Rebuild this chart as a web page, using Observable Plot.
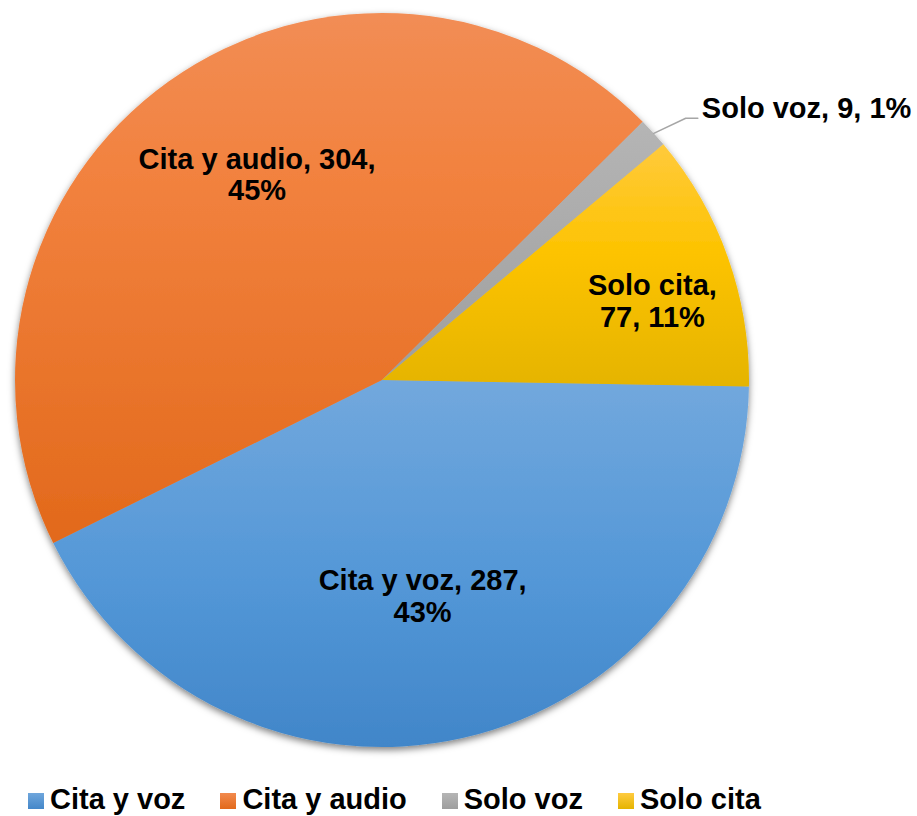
<!DOCTYPE html>
<html>
<head>
<meta charset="utf-8">
<script src="https://cdn.jsdelivr.net/npm/d3@7"></script>
<script src="https://cdn.jsdelivr.net/npm/@observablehq/plot@0.6"></script>
<style>
  body { margin: 0; background: #fff; font-family: "Liberation Sans", Arial, sans-serif; }
  #chart { position: relative; width: 917px; height: 816px; overflow: hidden; }
  #chart svg { display: block; }
  #legend { position: absolute; left: 28px; top: 784.5px; white-space: nowrap; font-size: 29px; line-height: 29px; font-weight: bold; color: #000; }
  #legend .item { display: inline-block; margin-right: 35px; }
  #legend .sq { display: inline-block; width: 16px; height: 16px; margin-right: 6px; vertical-align: baseline; }
</style>
</head>
<body>
<div id="chart"></div>
<script>
// ---- data ----
const categories = ["Cita y voz", "Cita y audio", "Solo voz", "Solo cita"];
const counts = [287, 304, 9, 77];
const percentLabels = ["43%", "45%", "1%", "11%"];

// ---- style ----
const gradients = [
  [["0", "#72A8DD"], ["0.55", "#5397D7"], ["1", "#4186C9"]],
  [["0", "#F28D55"], ["0.3", "#F2823F"], ["1", "#E2691B"]],
  [["0", "#B5B5B5"], ["1", "#9E9E9E"]],
  [["0", "#FFCA3C"], ["0.45", "#FDC300"], ["1", "#E5B400"]]
];
const legendSwatch = [["#6FA6DC", "#4487C9"], ["#F28A4E", "#E2691B"], ["#B5B5B5", "#9E9E9E"], ["#FFCB40", "#E5B400"]];
const FONT = "'Liberation Sans', Arial, sans-serif";
const START = 91 * Math.PI / 180;
const LABEL_TURN = 2.7 * Math.PI / 180; // inside labels sit slightly clockwise of the mid angle

const rows = categories.map((c, i) => ({category: c, count: counts[i], pct: percentLabels[i], i}));
const total = d3.sum(counts);
const arcs = d3.pie().sort(null).value(d => d.count).startAngle(START).endAngle(START + 2 * Math.PI)(rows);

const W = 917, H = 770, CX = 382, CY = 380, R = 367;

// label anchor points in unit (scale) coordinates
const labels = arcs.map(a => {
  const mid = (a.startAngle + a.endAngle) / 2;
  const frac = a.data.count / total;
  const f = frac < 0.2 ? 0.78 : 0.63;
  const ang = frac >= 0.2 ? mid + LABEL_TURN : mid;
  return {
    ...a.data, frac, mid,
    x: f * Math.sin(ang), y: f * Math.cos(ang),
    text: frac < 0.2
      ? `${a.data.category},\n${a.data.count}, ${a.data.pct}`
      : `${a.data.category}, ${a.data.count},\n${a.data.pct}`
  };
});
const big = labels.filter(d => d.frac >= 0.2);
const small = labels.filter(d => d.frac >= 0.05 && d.frac < 0.2);
const outside = labels.filter(d => d.frac < 0.05);

// leader lines for outside labels
const leaders = [];
const outsideText = [];
outside.forEach(d => {
  const ex = Math.sin(d.mid), ey = Math.cos(d.mid);
  const bx = ex + 0.087, by = ey + 0.041;
  leaders.push({k: d.category, x: ex, y: ey}, {k: d.category, x: bx, y: by}, {k: d.category, x: bx + 0.033, y: by});
  outsideText.push({x: bx + 0.044, y: by, text: `${d.category}, ${d.count}, ${d.pct}`});
});

function pieMark(index, scales, values, dimensions) {
  const cx = scales.x(0), cy = scales.y(0), r = scales.x(1) - scales.x(0);
  const g = d3.create("svg:g");
  const defs = g.append("defs");
  const filter = defs.append("filter").attr("id", "pieShadow")
    .attr("x", "-10%").attr("y", "-10%").attr("width", "120%").attr("height", "120%");
  filter.append("feDropShadow").attr("dx", 0).attr("dy", 3).attr("stdDeviation", 3.5)
    .attr("flood-color", "#000").attr("flood-opacity", 0.5);
  gradients.forEach((stops, i) => {
    const lg = defs.append("linearGradient").attr("id", "pg" + i)
      .attr("x1", 0).attr("y1", 0).attr("x2", 0).attr("y2", 1);
    stops.forEach(([o, c]) => lg.append("stop").attr("offset", o).attr("stop-color", c));
  });
  const arc = d3.arc().innerRadius(0).outerRadius(r);
  g.append("g")
    .attr("transform", `translate(${cx},${cy})`)
    .attr("filter", "url(#pieShadow)")
    .selectAll("path").data(arcs).join("path")
    .attr("d", arc)
    .attr("fill", d => `url(#pg${d.data.i})`);
  return g.node();
}

const plot = Plot.plot({
  width: W, height: H,
  marginLeft: CX - R, marginRight: W - (CX + R),
  marginTop: CY - R, marginBottom: H - (CY + R),
  x: {domain: [-1, 1], axis: null},
  y: {domain: [-1, 1], axis: null},
  style: {fontFamily: FONT, background: "transparent", overflow: "visible"},
  marks: [
    pieMark,
    Plot.text(big, {x: "x", y: "y", text: "text", fontSize: 29, fontWeight: "bold", fill: "#000", lineHeight: 1.093, dy: -12}),
    Plot.text(small, {x: "x", y: "y", text: "text", fontSize: 29, fontWeight: "bold", fill: "#000", lineHeight: 1.093, dy: 16}),
    Plot.line(leaders, {x: "x", y: "y", z: "k", stroke: "#A6A6A6", strokeWidth: 1.5}),
    Plot.text(outsideText, {x: "x", y: "y", text: "text", fontSize: 29, fontWeight: "bold", fill: "#000", textAnchor: "start", lineAnchor: "bottom"})
  ]
});
document.getElementById("chart").appendChild(plot);

// legend
const legend = d3.select("#chart").append("div").attr("id", "legend");
categories.forEach((c, i) => {
  const item = legend.append("span").attr("class", "item");
  item.append("span").attr("class", "sq")
    .style("background", `linear-gradient(${legendSwatch[i][0]}, ${legendSwatch[i][1]})`);
  item.append("span").attr("class", "txt").text(c);
});
</script>
</body>
</html>
